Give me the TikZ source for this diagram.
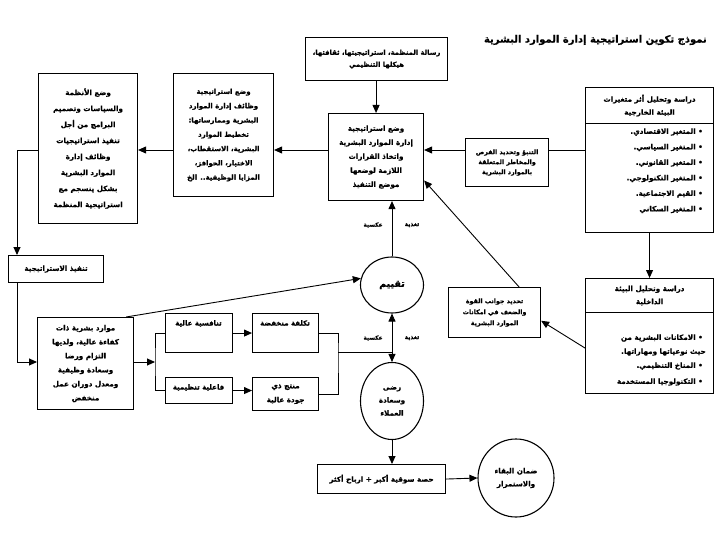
\documentclass[tikz,border=0pt]{standalone}
\usepackage{fontspec}
\newfontfamily\arabicfont[Script=Arabic,FakeBold=0.8]{DejaVu Sans Bold}
\TeXXeTstate=1
\usetikzlibrary{arrows.meta,shapes.geometric}
\newcommand\ar[1]{{\arabicfont\beginR #1\endR}}
\tikzset{
  box/.style={draw, line width=1.1pt, align=center, inner sep=2pt, anchor=north west,
              font=\fontsize{7.2}{14}\selectfont},
  oval/.style={draw, line width=1.1pt, ellipse, align=center, inner sep=0pt,
              font=\fontsize{7.2}{13}\selectfont},
  bul/.style={anchor=east, inner sep=0pt, font=\fontsize{7.2}{13}\selectfont},
  txt/.style={anchor=north, inner sep=0pt, font=\fontsize{7}{13}\selectfont},
  lbl/.style={inner sep=0pt, font=\fontsize{5.8}{7}\selectfont},
  arr/.style={-{Triangle[length=8pt,width=7pt]}, line width=0.9pt},
  dbl/.style={{Triangle[length=8pt,width=7pt]}-{Triangle[length=8pt,width=7pt]}, line width=0.9pt},
  ln/.style={line width=0.9pt},
}
\begin{document}
\begin{tikzpicture}[x=1pt,y=-1pt]
\useasboundingbox[fill=white] (0,0) rectangle (720,540);

% title
\node[anchor=east, inner sep=0pt, font=\fontsize{10}{12}\selectfont] (title) at (707,40)
  {\ar{نموذج تكوين استراتيجية إدارة الموارد البشرية}};

% mission
\node[box, minimum width=142pt, minimum height=43pt, font=\fontsize{6.8}{12}\selectfont] (mission) at (305,37)
  {\ar{رسالة المنظمة، استراتيجيتها، ثقافتها،}\\\ar{هيكلها التنظيمي}};

% external environment
\node[box, minimum width=128pt, minimum height=36pt, font=\fontsize{7.2}{13}\selectfont] (exth) at (585,87)
  {\ar{دراسة وتحليل أثر متغيرات}\\\ar{البيئة الخارجية}};
\node[box, minimum width=128pt, minimum height=109pt] (extb) at (585,123) {};
\node[bul] (e1) at (703,132) {\ar{• المتغير الاقتصادي.}};
\node[bul] (e2) at (703,147.5) {\ar{• المتغير السياسي.}};
\node[bul] (e3) at (703,163) {\ar{• المتغير القانوني.}};
\node[bul] (e4) at (703,178.5) {\ar{• المتغير التكنولوجي.}};
\node[bul] (e5) at (703,194) {\ar{• القيم الاجتماعية.}};
\node[bul] (e6) at (703,209.5) {\ar{• المتغير السكاني}};

% internal environment
\node[box, minimum width=128pt, minimum height=34pt, font=\fontsize{7.2}{13}\selectfont] (inth) at (585,278)
  {\ar{دراسة وتحليل البيئة}\\\ar{الداخلية}};
\node[box, minimum width=128pt, minimum height=81pt] (intb) at (585,312) {};
\node[bul] (i1) at (703,338) {\ar{• الامكانات البشرية من}};
\node[bul] (i2) at (706,352) {\ar{حيث نوعياتها ومهاراتها.}};
\node[bul] (i3) at (703,366) {\ar{• المناخ التنظيمي.}};
\node[bul] (i4) at (703,382) {\ar{• التكنولوجيا المستخدمة}};

% central box
\node[box, minimum width=95pt, minimum height=87pt] (central) at (328,113)
  {\ar{وضع استراتيجية}\\\ar{إدارة الموارد البشرية}\\\ar{واتخاذ القرارات}\\\ar{اللازمة لوضعها}\\\ar{موضع التنفيذ}};

% forecasting
\node[box, minimum width=83pt, minimum height=48pt, font=\fontsize{6.3}{10}\selectfont] (prog) at (465,138)
  {\ar{التنبؤ وتحديد الفرص}\\\ar{والمخاطر المتعلقة}\\\ar{بالموارد البشرية}};

% strengths / weaknesses
\node[box, minimum width=92pt, minimum height=50pt, font=\fontsize{6.3}{11}\selectfont] (tahdid) at (448,287)
  {\ar{تحديد جوانب القوة}\\\ar{والضعف في امكانات}\\\ar{الموارد البشرية}};

% HR functions strategy
\node[box, minimum width=100pt, minimum height=123pt, font=\fontsize{6.9}{14.3}\selectfont] (hrf) at (173,73)
  {\ar{وضع استراتيجية}\\\ar{وظائف إدارة الموارد}\\\ar{البشرية وممارساتها:}\\\ar{تخطيط الموارد}\\\ar{البشرية، الاستقطاب،}\\\ar{الاختيار، الحوافز،}\\\ar{المزايا الوظيفية.. الخ}};

% systems and policies
\node[box, minimum width=99pt, minimum height=150pt, font=\fontsize{7.2}{16}\selectfont] (sys) at (38,73)
  {\ar{وضع الأنظمة}\\\ar{والسياسات وتصميم}\\\ar{البرامج من أجل}\\\ar{تنفيذ استراتيجيات}\\\ar{وظائف إدارة}\\\ar{الموارد البشرية}\\\ar{بشكل ينسجم مع}\\\ar{استراتيجية المنظمة}};

% implementation
\node[box, minimum width=95pt, minimum height=27pt] (tanfidh) at (8,255)
  {\ar{تنفيذ الاستراتيجية}};

% HR outcome
\node[box, minimum width=96pt, minimum height=92pt] (mawarid) at (37,317)
  {\ar{موارد بشرية ذات}\\\ar{كفاءة عالية، ولديها}\\\ar{التزام ورضا}\\\ar{وسعادة وظيفية}\\\ar{ومعدل دوران عمل}\\\ar{منخفض}};

% outcome boxes
\node[box, minimum width=67pt, minimum height=39pt] (tanafus) at (165,313) {};
\node[txt] (tanafusT) at (198.5,320) {\ar{تنافسية عالية}};
\node[box, minimum width=66pt, minimum height=39pt] (taklifa) at (252,313) {};
\node[txt] (taklifaT) at (285,320) {\ar{تكلفة منخفضة}};
\node[box, minimum width=67pt, minimum height=26pt] (faaliya) at (165,377) {};
\node[txt] (faaliyaT) at (198.5,384) {\ar{فاعلية تنظيمية}};
\node[box, minimum width=66pt, minimum height=33pt] (muntaj) at (252,377)
  {\ar{منتج ذي}\\\ar{جودة عالية}};

% ovals
\node[oval, minimum width=63pt, minimum height=56pt, font=\fontsize{9.5}{11}\selectfont] (taqyim) at (392,285) {\ar{تقييم}};
\node[oval, minimum width=63pt, minimum height=77pt] (rida) at (392,401)
  {\ar{رضى}\\\ar{وسعادة}\\\ar{العملاء}};
\node[box, minimum width=128pt, minimum height=29pt] (hissa) at (317,464)
  {\ar{حصة سوقية أكبر + ارباح أكثر}};
\node[oval, minimum width=76pt, minimum height=78pt] (daman) at (516,478)
  {\ar{ضمان البقاء}\\\ar{والاستمرار}};

% feedback labels
\node[lbl] (fb1) at (373,225) {\ar{عكسية}};
\node[lbl] (fb2) at (412,225) {\ar{تغذية}};
\node[lbl] (fb3) at (373,338) {\ar{عكسية}};
\node[lbl] (fb4) at (412,338) {\ar{تغذية}};

% helper coordinates
\coordinate (c150) at (0,150);
\coordinate (k1) at (17,150);
\coordinate (k2) at (17,362);
\coordinate (br) at (155,362);
\coordinate (mg) at (338,352);

% connectors
\draw[arr] (central.north |- mission.south) -- (central.north);
\draw[ln] (extb.west |- c150) -- (prog.east |- c150);
\draw[arr] (prog.west |- c150) -- (central.east |- c150);
\draw[arr] (central.west |- c150) -- (hrf.east |- c150);
\draw[arr] (hrf.west |- c150) -- (sys.east |- c150);
\draw[arr] (sys.west |- k1) -- (k1) -- (k1 |- tanfidh.north);
\draw[arr] (k2 |- tanfidh.south) -- (k2) -- (k2 -| mawarid.west);
\draw[arr] ([xshift=-8pt]mawarid.north east) -- (taqyim.168);
\draw[arr] (mawarid.east |- br) -- (br);
\draw[ln] (tanafus.west) -| (br) |- (faaliya.west);
\draw[arr] (tanafus.east) -- (taklifa.west);
\draw[arr] (faaliya.east) -- (faaliya.east -| muntaj.west);
\draw[ln] (taklifa.east) -| (mg) |- (muntaj.east);
\draw[ln] (mg) -- (mg -| taqyim.south);
\draw[dbl] (taqyim.south) -- (rida.north);
\draw[arr] (taqyim.north) -- (taqyim.north |- central.south);
\draw[arr] (rida.south) -- (rida.south |- hissa.north);
\draw[arr] (hissa.east) -- (daman.west);
\draw[arr] (extb.south) -- (inth.north);
\draw[arr] ([xshift=-22pt]tahdid.north east) -- (central.-26);
\draw[arr] ([yshift=5pt]intb.west) -- (tahdid.-10);
\end{tikzpicture}
\end{document}
